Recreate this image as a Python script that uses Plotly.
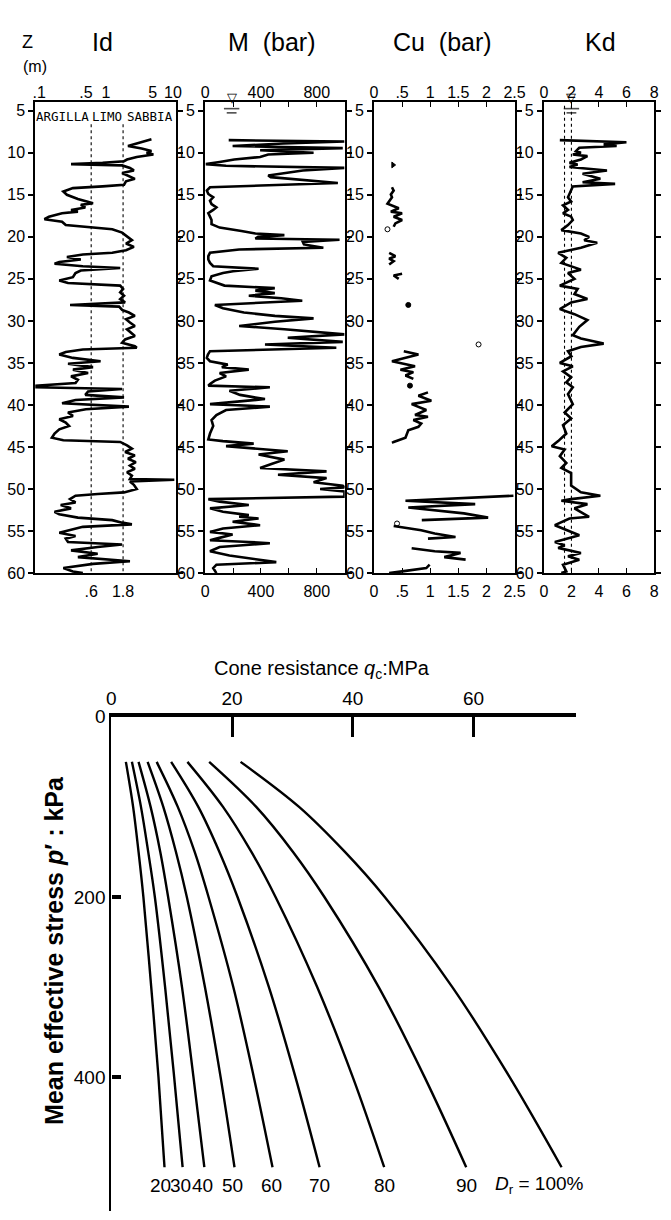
import math
import plotly.graph_objects as go

W, H = 671, 1220

# ---------------- data: CPT / DMT profiles (depth in m) ----------------
ID_DEPTH = [8.4, 8.8, 9.2, 9.5, 9.8, 10.0, 10.2, 10.5, 10.8, 11.0, 11.2, 11.35, 11.5, 11.8, 12.1, 12.4, 12.8,
            13.1, 13.4, 13.8, 14.0, 14.2, 14.6, 15.0, 15.5, 16.0, 16.2, 16.5, 16.8, 17.0, 17.2, 17.6, 17.9,
            18.2, 18.6, 18.8, 19.1, 19.5, 20.0, 20.4, 20.8, 21.2, 21.6, 21.9, 22.1, 22.4, 22.7, 23.0, 23.2,
            23.5, 23.7, 24.0, 24.3, 24.8, 25.2, 25.5, 25.8, 26.2, 26.6, 27.0, 27.4, 27.8, 28.1, 28.3, 28.7,
            29.0, 29.4, 29.8, 30.2, 30.6, 31.0, 31.4, 31.8, 32.2, 32.6, 33.0, 33.2, 33.4, 33.7, 34.0, 34.4,
            34.8, 35.1, 35.5, 35.8, 36.2, 36.6, 37.0, 37.4, 37.7, 37.9, 38.1, 38.4, 38.8, 39.1, 39.4, 39.8,
            40.2, 40.5, 40.9, 41.3, 41.7, 42.1, 42.5, 42.9, 43.4, 43.9, 44.2, 44.4, 44.8, 45.2, 45.6, 46.0,
            46.4, 46.8, 47.2, 47.6, 48.0, 48.4, 48.8, 48.9, 49.1, 49.5, 50.0, 50.4, 50.6, 50.8, 51.2, 51.6,
            51.9, 52.3, 52.7, 53.0, 53.4, 53.7, 54.0, 54.2, 54.5, 54.8, 55.2, 55.6, 55.9, 56.3, 56.6, 56.9,
            57.3, 57.7, 58.1, 58.6, 58.9, 59.4, 59.8, 60.0]
ID_VALUES = [4.78, 3.19, 2.13, 3.41, 4.78, 4.04, 5.11, 2.88, 2.06, 1.86, 0.89, 0.30, 1.74, 2.28, 2.61, 1.74, 2.28,
             2.70, 1.99, 1.86, 0.89, 0.32, 0.23, 0.26, 0.38, 0.64, 0.42, 0.49, 0.30, 0.38, 0.22, 0.14, 0.12,
             0.22, 0.25, 0.54, 1.24, 1.74, 2.06, 2.44, 1.99, 2.61, 1.99, 1.24, 0.45, 0.26, 0.42, 0.20, 0.17,
             0.45, 1.63, 0.42, 0.35, 0.32, 0.20, 0.27, 1.63, 1.80, 1.63, 1.86, 1.63, 1.93, 0.29, 1.57, 1.74,
             2.20, 2.70, 1.99, 2.28, 2.70, 2.06, 2.36, 2.70, 1.93, 1.74, 2.70, 2.88, 0.45, 0.25, 0.20, 0.32,
             0.83, 0.27, 0.64, 0.32, 0.54, 0.30, 0.38, 0.35, 0.09, 0.09, 1.74, 0.54, 0.49, 1.86, 0.35, 0.22,
             2.20, 0.50, 0.27, 0.32, 0.20, 0.25, 0.28, 0.20, 0.17, 0.155, 0.23, 1.63, 2.06, 2.44, 1.93, 2.70,
             2.13, 2.79, 2.28, 2.70, 2.06, 2.44, 2.28, 10.5, 2.28, 2.61, 2.88, 1.86, 0.75, 0.35, 0.29, 0.35,
             0.21, 0.30, 0.17, 0.20, 0.38, 1.24, 1.74, 2.44, 0.45, 0.32, 0.20, 0.35, 0.25, 0.27, 1.74, 0.75,
             0.30, 0.75, 0.38, 2.28, 0.64, 0.23, 0.32, 0.45]
ID_LIMITS = [0.6, 1.8]

M_DEPTH = [8.5, 8.65, 8.9, 9.2, 9.45, 9.7, 10.0, 10.2, 10.5, 10.8, 11.1, 11.35, 11.55, 11.8, 12.1, 12.4, 12.7,
           12.9, 13.1, 13.4, 13.6, 13.9, 14.1, 14.5, 14.9, 15.3, 15.7, 16.1, 16.5, 16.8, 17.2, 17.6, 18.0,
           18.5, 18.9, 19.3, 19.6, 19.8, 20.0, 20.2, 20.35, 20.6, 20.9, 21.3, 21.5, 21.9, 22.3, 22.7, 23.1,
           23.5, 23.8, 24.1, 24.3, 24.7, 25.2, 25.8, 26.1, 26.4, 26.7, 27.0, 27.3, 27.6, 28.1, 28.5, 29.0,
           29.4, 29.7, 30.1, 30.6, 31.0, 31.6, 32.0, 32.5, 32.8, 33.2, 33.6, 34.0, 34.4, 34.8, 35.2, 35.5,
           35.8, 36.2, 36.6, 37.1, 37.5, 37.7, 37.9, 38.3, 38.8, 39.3, 39.9, 40.2, 40.6, 41.2, 41.8, 42.5,
           43.4, 44.1, 44.3, 44.6, 44.9, 45.5, 45.9, 46.5, 47.0, 47.5, 47.9, 48.3, 48.7, 49.2, 49.6, 49.8,
           50.0, 50.3, 50.9, 51.2, 51.5, 51.9, 52.3, 52.7, 53.1, 53.3, 53.5, 53.9, 54.3, 54.7, 55.1, 55.4,
           55.9, 56.1, 56.3, 56.45, 56.9, 57.4, 57.9, 58.7, 59.0, 59.4, 60.0]
M_VALUES = [169, 998, 560, 197, 986, 394, 777, 452, 394, 209, 104, 5, 150, 998, 700, 592, 452,
            470, 615, 800, 951, 400, 35, 12, 23, 58, 35, 46, 81, 58, 23, 35, 46,
            46, 104, 260, 360, 568, 380, 360, 963, 700, 708, 847, 244, 35, 23, 23, 35,
            58, 383, 200, 128, 46, 35, 139, 499, 360, 499, 313, 545, 696, 70, 128, 278,
            500, 777, 500, 244, 568, 998, 592, 986, 429, 940, 35, 20, 12, 35, 162, 120,
            313, 104, 150, 70, 35, 23, 464, 174, 250, 429, 35, 464, 150, 81, 46, 58,
            35, 23, 128, 348, 150, 592, 383, 568, 480, 394, 870, 522, 870, 777, 986, 998,
            824, 998, 998, 23, 104, 313, 35, 128, 313, 244, 383, 197, 394, 128, 35, 197,
            81, 35, 313, 464, 104, 35, 174, 510, 81, 58, 81]
M_WATER_TABLE = 190

CU_DEPTH = [14.1, 14.5, 14.96, 15.3, 16.05, 16.4, 16.6, 17.0, 17.2, 17.6, 18.0, 18.4, 18.8, None,
            21.9, 22.3, 22.6, 22.9, 23.3, None,
            24.4, 24.6, 25.0, None,
            33.6, 34.0, 34.8, 35.4, 35.8, 36.1, 36.5, 36.9, None,
            38.5, 38.9, 39.5, 39.9, 40.6, 41.2, 41.4, 41.8, 42.2, 42.6, 43.0, 43.9, 44.4, 44.5, None,
            50.8, 51.4, 51.8, 52.2, 52.9, 53.4, 53.7, None,
            54.4, 54.9, 55.3, 55.7, 55.9, None,
            57.05, 57.4, 57.6, 58.1, 58.4, None,
            59.0, 59.4, 59.8, 60.0]
CU_VALUES = [0.32, 0.35, 0.30, 0.32, 0.24, 0.35, 0.44, 0.30, 0.50, 0.35, 0.50, 0.38, 0.35, None,
             0.27, 0.38, 0.27, 0.35, 0.27, None,
             0.50, 0.35, 0.44, None,
             0.53, 0.79, 0.32, 0.73, 0.47, 0.70, 0.56, 0.70, None,
             0.96, 0.79, 1.02, 0.67, 0.93, 0.73, 0.96, 0.70, 0.84, 0.79, 0.61, 0.56, 0.35, 0.32, None,
             2.48, 0.56, 1.80, 0.61, 1.60, 2.03, 0.85, None,
             0.35, 0.84, 1.08, 1.45, 0.96, None,
             0.67, 1.08, 1.54, 1.25, 1.63, None,
             0.99, 0.93, 0.50, 0.27]
CU_POINT_DEPTH = [11.45, 19.1, 28.1, 32.8, 37.7, 54.1]
CU_POINT_VALUES = [0.34, 0.24, 0.61, 1.86, 0.64, 0.41]
CU_POINT_SYMBOLS = ["triangle-right", "circle-open", "circle", "circle-open", "circle", "circle-open"]

KD_DEPTH = [8.5, 8.75, 9.0, 9.2, 9.4, 9.8, 10.0, 10.2, 10.4, 10.8, 11.2, 11.4, 11.7, 11.95, 12.1, 12.5, 13.1,
            13.5, 13.7, 14.0, 14.5, 15.3, 15.8, 16.25, 16.8, 17.2, 17.6, 18.0, 18.6, 19.2, 19.6, 20.0, 20.4,
            20.7, 21.3, 21.6, 21.9, 22.5, 23.1, 23.9, 24.3, 25.0, 25.8, 26.2, 26.8, 27.4, 27.8, 28.6, 29.2,
            29.9, 30.7, 31.7, 32.1, 32.7, 33.1, 33.6, 34.2, 35.0, 35.4, 36.0, 36.7, 37.3, 37.9, 38.7, 39.9,
            40.9, 41.6, 42.4, 43.4, 44.3, 44.9, 45.3, 46.1, 46.9, 47.5, 48.1, 49.6, 50.4, 50.8, 51.2, 51.4,
            51.8, 52.3, 53.3, 53.5, 54.3, 54.7, 55.5, 56.3, 56.7, 57.0, 57.6, 58.0, 58.4, 59.0, 59.8, 60.0]
KD_VALUES = [1.16, 5.99, 4.34, 5.28, 2.57, 2.33, 2.69, 2.10, 3.16, 2.69, 1.86, 2.45, 1.86, 3.40, 4.58, 2.81, 4.10,
             2.81, 5.17, 2.10, 1.98, 1.75, 1.98, 1.39, 1.75, 1.39, 1.98, 2.10, 1.75, 1.27, 2.69, 3.28, 2.93,
             3.87, 2.69, 1.75, 1.04, 1.63, 1.27, 2.69, 1.75, 2.22, 1.16, 2.45, 2.22, 3.16, 1.98, 1.16, 2.22,
             3.16, 2.57, 2.10, 2.69, 4.34, 2.69, 1.75, 2.0, 1.16, 2.10, 1.39, 1.98, 1.63, 2.10, 1.75, 2.10,
             1.51, 1.98, 1.39, 1.63, 1.04, 0.57, 1.51, 1.16, 1.63, 1.27, 1.98, 1.98, 2.69, 4.10, 1.98, 1.27,
             3.16, 2.22, 3.28, 1.86, 0.80, 1.39, 2.57, 0.80, 1.51, 1.04, 2.69, 1.75, 2.57, 1.39, 1.63, 1.27]
KD_LIMITS = [1.5, 2.0]
KD_WATER_TABLE = 2.0

DEPTH_TICKS = [5, 10, 15, 20, 25, 30, 35, 40, 45, 50, 55, 60]
ID_TOP_TICKS = [0.1, 0.5, 1, 5, 10]
ID_TOP_TEXT = [".1", ".5", "1", "5", "10"]
ID_BOTTOM_TEXT = [".6", "1.8"]
M_TICKS = [0, 400, 800]
M_MINOR = [200, 600]
CU_TICKS = [0, 0.5, 1, 1.5, 2, 2.5]
CU_TEXT = ["0", ".5", "1", "1.5", "2", "2.5"]
KD_TICKS = [0, 2, 4, 6, 8]
SOIL_CLASSES = ["ARGILLA", "LIMO", "SABBIA"]
SOIL_CLASS_ID = [0.22, 1.02, 4.5]

# ---------------- data: qc vs p' for relative densities ----------------
P_EFF = [50, 100, 150, 200, 300, 400, 500]
DR_PERCENT = [20, 30, 40, 50, 60, 70, 80, 90, 100]
QC_DR20 = [2.4, 3.6, 4.5, 5.3, 6.6, 7.8, 8.8]
QC_DR30 = [3.4, 4.9, 6.1, 7.2, 8.9, 10.4, 11.8]
QC_DR40 = [4.5, 6.5, 8.1, 9.4, 11.7, 13.6, 15.4]
QC_DR50 = [6.0, 8.6, 10.7, 12.5, 15.5, 18.1, 20.4]
QC_DR60 = [7.5, 11.0, 13.8, 16.1, 20.2, 23.6, 26.7]
QC_DR70 = [9.9, 14.4, 17.9, 20.9, 26.1, 30.5, 34.5]
QC_DR80 = [12.6, 18.5, 23.2, 27.2, 34.1, 40.0, 45.2]
QC_DR90 = [16.2, 24.0, 30.1, 35.3, 44.3, 51.9, 58.8]
QC_DR100 = [21.4, 31.1, 38.7, 45.3, 56.5, 66.0, 74.6]
QC_CURVES = [QC_DR20, QC_DR30, QC_DR40, QC_DR50, QC_DR60, QC_DR70, QC_DR80, QC_DR90, QC_DR100]
QC_TICKS = [0, 20, 40, 60]
P_TICKS = [0, 200, 400]

# ---------------- styling ----------------
NARROW = "Liberation Sans Narrow, Arial Narrow, Liberation Sans, Arial, sans-serif"
MONO = "DejaVu Sans Mono, Liberation Mono, monospace"
BLACK = "#000000"
LABEL_XSHIFT = [-4, -2, -2, -2, -1, 0, 0, 0, 24]


def px(x):
    return x / W


def py(y):
    return 1 - y / H


TOP_DOM = [py(572), py(93.8)]
Z_RANGE = [60, 4.0]

fig = go.Figure()

line_kw = dict(color=BLACK, width=2.6)

fig.add_trace(go.Scatter(x=ID_VALUES, y=ID_DEPTH, mode="lines", line=line_kw, xaxis="x", yaxis="y"))
for v in ID_LIMITS:
    fig.add_trace(go.Scatter(x=[v, v], y=[6.6, 60], mode="lines",
                             line=dict(color=BLACK, width=1.1, dash="3px,3px"), xaxis="x", yaxis="y"))

fig.add_trace(go.Scatter(x=M_VALUES, y=M_DEPTH, mode="lines", line=line_kw, xaxis="x2", yaxis="y2"))
fig.add_trace(go.Scatter(x=CU_VALUES, y=CU_DEPTH, mode="lines", line=line_kw, connectgaps=False,
                         xaxis="x3", yaxis="y3"))
fig.add_trace(go.Scatter(x=CU_POINT_VALUES, y=CU_POINT_DEPTH, mode="markers",
                         marker=dict(symbol=CU_POINT_SYMBOLS, size=5, color=BLACK,
                                     line=dict(color=BLACK, width=1)),
                         xaxis="x3", yaxis="y3"))
fig.add_trace(go.Scatter(x=KD_VALUES, y=KD_DEPTH, mode="lines", line=line_kw, xaxis="x4", yaxis="y4"))
for v in KD_LIMITS:
    fig.add_trace(go.Scatter(x=[v, v], y=[4.4, 60], mode="lines",
                             line=dict(color=BLACK, width=1.1, dash="3px,3px"), xaxis="x4", yaxis="y4"))

# water table bars (below the top edge)
for xv, xa, ya in [(M_WATER_TABLE, "x2", "y2"), (KD_WATER_TABLE, "x4", "y4")]:
    fig.add_trace(go.Scatter(x=[xv, xv], y=[4.75, 5.25], mode="markers", cliponaxis=False,
                             marker=dict(symbol="line-ew-open", size=[11, 7], color=BLACK,
                                         line=dict(color=BLACK, width=1.6)),
                             xaxis=xa, yaxis=ya))

# dummy traces for top tick-label axes
for xa, ya in [("x6", "y"), ("x7", "y2"), ("x8", "y3"), ("x9", "y4")]:
    fig.add_trace(go.Scatter(x=[None], y=[None], xaxis=xa, yaxis=ya, mode="markers"))

# ---- bottom chart ----
for curve in QC_CURVES:
    fig.add_trace(go.Scatter(x=curve, y=P_EFF, mode="lines", line=dict(color=BLACK, width=2.4, shape="spline"),
                             xaxis="x5", yaxis="y5"))

tick_font = dict(family=NARROW, size=16, color=BLACK)
depth_font = dict(family=NARROW, size=16, color=BLACK)

yax_common = dict(range=Z_RANGE, domain=TOP_DOM, tickvals=DEPTH_TICKS, ticks="outside", ticklen=5,
                  tickwidth=1.5, tickcolor=BLACK, showline=True, linewidth=2, linecolor=BLACK,
                  mirror="ticks", showgrid=False, zeroline=False, tickfont=depth_font)
xax_common = dict(showline=True, linewidth=2, linecolor=BLACK, mirror=True, showgrid=False,
                  zeroline=False, tickfont=tick_font, tickcolor=BLACK, ticklabelstandoff=3)
top_common = dict(side="top", showgrid=False, zeroline=False, showline=False, tickfont=tick_font,
                  tickcolor=BLACK)

layout = dict(
    width=W, height=H, margin=dict(l=0, r=0, t=0, b=0),
    paper_bgcolor="white", plot_bgcolor="white", showlegend=False,
    xaxis=dict(xax_common, type="log", range=[-1.058, 1.044], domain=[px(31), px(175)], anchor="y",
               tickvals=ID_LIMITS, ticktext=ID_BOTTOM_TEXT, ticks=""),
    xaxis2=dict(xax_common, range=[0, 1000], domain=[px(205), px(348)], anchor="y2",
                tickvals=M_TICKS, ticks="inside", ticklen=5,
                minor=dict(tickvals=M_MINOR, ticks="inside", ticklen=5, tickcolor=BLACK)),
    xaxis3=dict(xax_common, range=[0, 2.5], domain=[px(378), px(522)], anchor="y3",
                tickvals=CU_TICKS, ticktext=CU_TEXT, ticks="inside", ticklen=5),
    xaxis4=dict(xax_common, range=[0, 8], domain=[px(552), px(665)], anchor="y4",
                tickvals=KD_TICKS, ticks="inside", ticklen=5),
    xaxis6=dict(top_common, type="log", range=[-1.058, 1.044], overlaying="x", anchor="y",
                tickvals=ID_TOP_TICKS, ticktext=ID_TOP_TEXT, ticks=""),
    xaxis7=dict(top_common, range=[0, 1000], overlaying="x2", anchor="y2", tickvals=M_TICKS,
                ticks="inside", ticklen=5,
                minor=dict(tickvals=M_MINOR, ticks="inside", ticklen=5, tickcolor=BLACK)),
    xaxis8=dict(top_common, range=[0, 2.5], overlaying="x3", anchor="y3", tickvals=CU_TICKS, ticktext=CU_TEXT,
                ticks="inside", ticklen=5),
    xaxis9=dict(top_common, range=[0, 8], overlaying="x4", anchor="y4", tickvals=KD_TICKS,
                ticks="inside", ticklen=5),
    yaxis=dict(yax_common, anchor="x"),
    yaxis2=dict(yax_common, anchor="x2"),
    yaxis3=dict(yax_common, anchor="x3"),
    yaxis4=dict(yax_common, anchor="x4"),
    xaxis5=dict(range=[0, 77], domain=[px(109), px(585)], anchor="y5", side="top", tickvals=QC_TICKS,
                ticks="inside", ticklen=20, tickwidth=2.5, tickcolor=BLACK, showline=True, linewidth=3.5,
                linecolor=BLACK, showgrid=False, zeroline=False,
                tickfont=dict(family=NARROW, size=19, color=BLACK)),
    yaxis5=dict(range=[548.6, 0], domain=[0, py(718)], anchor="x5", tickvals=P_TICKS, ticks="inside",
                ticklen=9, tickwidth=4, tickcolor=BLACK, showline=True, linewidth=2.2, linecolor=BLACK,
                showgrid=False, zeroline=False, tickfont=dict(family=NARROW, size=19, color=BLACK)),
)
fig.update_layout(**layout)

ann = []
title_font = dict(family=NARROW, size=25, color=BLACK)
for text, xpix in [("Id", 100), ("M  (bar)", 274), ("Cu  (bar)", 448), ("Kd", 610)]:
    ann.append(dict(text=text, x=px(xpix), y=py(33), xref="paper", yref="paper", showarrow=False,
                    xanchor="center", yanchor="middle", font=title_font))
ann.append(dict(text="Z", x=px(15), y=py(20), xref="paper", yref="paper", showarrow=False,
                font=dict(family=NARROW, size=18, color=BLACK)))
ann.append(dict(text="(m)", x=px(16), y=py(47), xref="paper", yref="paper", showarrow=False,
                font=dict(family=NARROW, size=16, color=BLACK)))

# water table triangles sitting on the top edge
for xv, xa in [(M_WATER_TABLE, "x2"), (KD_WATER_TABLE, "x4")]:
    ann.append(dict(text="▽", x=xv, y=py(93), xref=xa, yref="paper", showarrow=False,
                    xanchor="center", yanchor="bottom", yshift=-5,
                    font=dict(family="DejaVu Sans, sans-serif", size=13, color=BLACK)))

for name, v in zip(SOIL_CLASSES, SOIL_CLASS_ID):
    ann.append(dict(text=name, x=math.log10(v), y=py(108), xref="x", yref="paper", showarrow=False,
                    xanchor="center", yanchor="middle", font=dict(family=MONO, size=12.5, color=BLACK)))

ann.append(dict(text="Cone resistance <i>q</i><sub>c</sub>:MPa", x=px(325), y=py(670), xref="paper",
                yref="paper", showarrow=False, xanchor="center", yanchor="middle",
                font=dict(family=NARROW, size=20, color=BLACK)))
ann.append(dict(text="<b>Mean effective stress <i>p</i>′ : kPa</b>", x=px(50), y=py(955), xref="paper",
                yref="paper", showarrow=False, textangle=-90, xanchor="center", yanchor="middle",
                font=dict(family="Liberation Sans, Arial, sans-serif", size=25, color=BLACK)))

for dr, curve, shift in zip(DR_PERCENT, QC_CURVES, LABEL_XSHIFT):
    if dr == 100:
        ann.append(dict(text="<i>D</i><sub>r</sub> = 100%", x=curve[-1], y=520, xref="x5", yref="y5",
                        showarrow=False, xanchor="right", yanchor="middle", xshift=shift,
                        font=dict(family=NARROW, size=19, color=BLACK)))
    else:
        ann.append(dict(text=str(dr), x=curve[-1], y=520, xref="x5", yref="y5", showarrow=False,
                        xanchor="center", yanchor="middle", xshift=shift,
                        font=dict(family=NARROW, size=19, color=BLACK)))

fig.update_layout(annotations=ann)
fig.update_traces(hoverinfo="skip")

fig.write_html("out.html")
